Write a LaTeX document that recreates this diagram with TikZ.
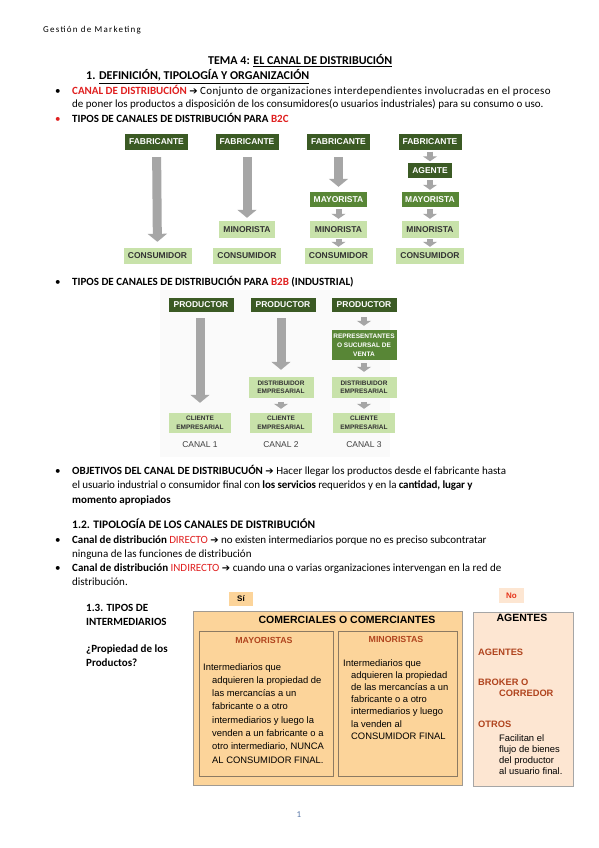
\documentclass[tikz,border=0pt]{standalone}
\usepackage{fontspec}
\setmainfont{Carlito}
\newfontfamily\arial{Liberation Sans}
\newfontfamily\symfont{DejaVu Sans}
\usetikzlibrary{arrows.meta,positioning}

\definecolor{verdeosc}{HTML}{3B5A24}
\definecolor{verdemed}{HTML}{588636}
\definecolor{verdecla}{HTML}{C8E2AA}
\definecolor{grisflecha}{HTML}{A6A6A6}
\definecolor{rojo}{HTML}{E02020}
\definecolor{naranja}{HTML}{FCD49A}
\definecolor{melocoton}{HTML}{FDE6D2}
\definecolor{marron}{HTML}{B0441E}
\definecolor{bordegris}{HTML}{A09A92}
\definecolor{bordeint}{HTML}{8C7A62}
\definecolor{numazul}{HTML}{5A78A8}

\newcommand{\flecha}{{\symfont\fontsize{10}{12}\selectfont ➔}}

\tikzset{
caja/.style={inner sep=0pt, font=\arial\bfseries\fontsize{8.5}{10}\selectfont, align=center},
oscura/.style={caja, fill=verdeosc, text=white},
media/.style={caja, fill=verdemed, text=white},
clara/.style={caja, fill=verdecla, text=black!80},
peque/.style={font=\arial\bfseries\fontsize{6.5}{8.5}\selectfont},
flechag/.style={draw=grisflecha, line width=9pt, -{Triangle[width=19pt,length=8pt]}},
flechap/.style={draw=grisflecha, line width=6pt, -{Triangle[width=14pt,length=5pt]}},
texto/.style={anchor=base west, inner sep=0pt, font=\fontsize{11}{13}\selectfont},
etiq/.style={texto, text=marron, font=\arial\bfseries\fontsize{9.3}{11}\selectfont},
tabla/.style={anchor=north west, inner sep=0pt, align=left, font=\arial\fontsize{9.4}{13.3}\selectfont},
}

\begin{document}
\begin{tikzpicture}[x=1pt,y=-1pt]

\fill[white] (0,0) rectangle (599,848);
\useasboundingbox (0,0) rectangle (599,848);

% Cabecera
\node[texto, font=\fontsize{9}{11}\selectfont\addfontfeature{LetterSpace=14}] (cab) at (43,33) {Gestión de Marketing};
\node[texto, font=\bfseries\fontsize{12}{14}\selectfont] (tema) at (208,65) {TEMA 4: \underline{EL CANAL DE DISTRIBUCIÓN}};
\node[texto, font=\bfseries\fontsize{12}{14}\selectfont] (sec1) at (86,80) {1. \underline{DEFINICIÓN, TIPOLOGÍA Y ORGANIZACIÓN}};

% Definicion
\node[texto] (p1) at (55,95) {•};
\node[texto] (l1) at (72,95) {{\color{rojo}\bfseries CANAL DE DISTRIBUCIÓN} \flecha\ {\addfontfeature{LetterSpace=3.2}Conjunto de organizaciones interdependientes involucradas en el proceso}};
\node[texto] (l2) at (72,108) {de poner los productos a disposición de los consumidores(o usuarios industriales) para su consumo o uso.};
\node[texto, text=rojo] (p2) at (55,123) {•};
\node[texto] (l3) at (72,123) {\bfseries TIPOS DE CANALES DE DISTRIBUCIÓN PARA {\color{rojo}B2C}};

% Canales B2C
\node[oscura, minimum width=63pt, minimum height=16pt] (fab1) at (156.5,142) {FABRICANTE};
\node[oscura, minimum width=63pt, minimum height=16pt] (fab2) at (247,142) {FABRICANTE};
\node[oscura, minimum width=63pt, minimum height=16pt] (fab3) at (338.5,142) {FABRICANTE};
\node[oscura, minimum width=63pt, minimum height=16pt] (fab4) at (430,142) {FABRICANTE};
\node[oscura, minimum width=44pt, minimum height=15pt] (age4) at (430,170.5) {AGENTE};
\node[media, minimum width=57pt, minimum height=15pt] (may3) at (338.5,199.5) {MAYORISTA};
\node[media, minimum width=57pt, minimum height=15pt] (may4) at (430,199.5) {MAYORISTA};
\node[clara, minimum width=56pt, minimum height=17pt] (min2) at (247,229.5) {MINORISTA};
\node[clara, minimum width=57pt, minimum height=17pt] (min3) at (338.5,229.5) {MINORISTA};
\node[clara, minimum width=57pt, minimum height=17pt] (min4) at (430,229.5) {MINORISTA};
\foreach \n/\x in {1/157.5,2/247,3/338.5,4/430}
{
\node[clara, minimum width=68pt, minimum height=16pt] (con\n) at (\x,256) {CONSUMIDOR};
}

\draw[flechag, shorten <=7pt, shorten >=6pt] (fab1) -- (con1);
\draw[flechag, shorten <=7pt, shorten >=3pt] (fab2) -- (min2);
\draw[flechag, shorten <=7pt, shorten >=5pt] (fab3) -- (may3);
\draw[flechap, shorten <=2pt, shorten >=2pt] (may3) -- (min3);
\draw[flechap, shorten <=1pt, shorten >=1pt] (min3) -- (con3);
\draw[flechap, shorten <=1.5pt, shorten >=1.5pt] (fab4) -- (age4);
\draw[flechap, shorten <=2pt, shorten >=2pt] (age4) -- (may4);
\draw[flechap, shorten <=2pt, shorten >=2pt] (may4) -- (min4);
\draw[flechap, shorten <=1pt, shorten >=1pt] (min4) -- (con4);

\node[texto] (p3) at (55,285) {•};
\node[texto] (l4) at (72,285) {\bfseries TIPOS DE CANALES DE DISTRIBUCIÓN PARA {\color{rojo}B2B} (INDUSTRIAL)};

% Canales B2B
\fill[black!2] (160,290) rectangle (390,457);
\node[oscura, minimum width=65pt, minimum height=14pt] (pro1) at (201,305) {PRODUCTOR};
\node[oscura, minimum width=65pt, minimum height=14pt] (pro2) at (283,305) {PRODUCTOR};
\node[oscura, minimum width=65pt, minimum height=14pt] (pro3) at (364,305) {PRODUCTOR};
\node[media, peque, minimum width=65pt, minimum height=30pt, font=\arial\bfseries\fontsize{6.5}{9}\selectfont] (rep3) at (364,345) {REPRESENTANTES\\O SUCURSAL DE\\VENTA};
\node[clara, peque, minimum width=65pt, minimum height=21pt] (dis2) at (281,387.5) {DISTRIBUIDOR\\EMPRESARIAL};
\node[clara, peque, minimum width=65pt, minimum height=21pt] (dis3) at (364,387.5) {DISTRIBUIDOR\\EMPRESARIAL};
\foreach \n/\x in {1/200,2/281,3/364}
{
\node[clara, peque, minimum width=62pt, minimum height=20pt] (cli\n) at (\x,423) {CLIENTE\\EMPRESARIAL};
\node[caja, text=black!75, font=\arial\fontsize{8.5}{10}\selectfont] (can\n) at (\x,445) {CANAL \n};
}

\draw[flechag, shorten <=6pt, shorten >=10pt] (pro1.south -| cli1) -- (cli1);
\draw[flechag, shorten <=6pt, shorten >=7pt] (pro2.south -| dis2) -- (dis2);
\draw[flechap, shorten <=4pt, shorten >=4pt] (dis2) -- (cli2);
\draw[flechap, shorten <=5pt, shorten >=4pt] (pro3) -- (rep3);
\draw[flechap, shorten <=3pt, shorten >=5pt] (rep3) -- (dis3);
\draw[flechap, shorten <=4pt, shorten >=4pt] (dis3) -- (cli3);

% Objetivos y tipologia
\node[texto] (p4) at (55,474) {•};
\node[texto] (l5) at (72,474) {\textbf{OBJETIVOS DEL CANAL DE DISTRIBUCUÓN \flecha} Hacer llegar los productos desde el fabricante hasta};
\node[texto, font=\fontsize{11}{13}\selectfont\addfontfeature{LetterSpace=-1.1}] (l6) at (72,488) {el usuario industrial o consumidor final con \textbf{los servicios} requeridos y en la \textbf{cantidad, lugar y}};
\node[texto] (l7) at (72,503) {\textbf{momento apropiados}};
\node[texto, font=\bfseries\fontsize{11.5}{13}\selectfont] (sec12) at (72,528) {1.2. TIPOLOGÍA DE LOS CANALES DE DISTRIBUCIÓN};
\node[texto] (p5) at (55,543) {•};
\node[texto, font=\fontsize{11}{13}\selectfont\addfontfeature{LetterSpace=-0.6}] (l8) at (72,543) {\textbf{Canal de distribución} {\color{rojo}DIRECTO} \flecha\ no existen intermediarios porque no es preciso subcontratar};
\node[texto] (l9) at (72,557) {ninguna de las funciones de distribución};
\node[texto] (p6) at (55,571) {•};
\node[texto] (l10) at (72,571) {\textbf{Canal de distribución} {\color{rojo}INDIRECTO} \flecha\ cuando una o varias organizaciones intervengan en la red de};
\node[texto] (l11) at (72,585) {distribución.};

% Tipos de intermediarios
\node[texto, font=\bfseries\fontsize{11}{13}\selectfont] (sec13a) at (86,611) {1.3. TIPOS DE};
\node[texto, font=\bfseries\fontsize{11}{13}\selectfont] (sec13b) at (86,625) {INTERMEDIARIOS};
\node[texto, font=\bfseries\fontsize{11}{13}\selectfont] (preg1) at (86,652) {¿Propiedad de los};
\node[texto, font=\bfseries\fontsize{11}{13}\selectfont] (preg2) at (86,666) {Productos?};

\node[caja, fill=naranja, minimum width=24pt, minimum height=14pt, font=\arial\bfseries\fontsize{8}{9}\selectfont] (si) at (241,599) {Sí};
\node[caja, fill=melocoton, minimum width=25pt, minimum height=15pt, text=rojo!80!orange, font=\arial\bfseries\fontsize{8}{9}\selectfont] (no) at (511.5,595.5) {No};

\node[draw=bordegris, line width=0.9pt, fill=naranja, minimum width=269pt, minimum height=174pt] (com) at (327.5,698) {};
\node[caja, font=\arial\bfseries\fontsize{10.5}{12}\selectfont] (tcom) at (347,620) {COMERCIALES O COMERCIANTES};
\node[draw=bordeint, line width=0.6pt, minimum width=134pt, minimum height=145pt] (mayb) at (266,703.5) {};
\node[draw=bordeint, line width=0.6pt, minimum width=119pt, minimum height=145pt] (minb) at (397.5,703.5) {};
\node[caja, text=marron, font=\arial\bfseries\fontsize{8.8}{10}\selectfont] (tmay) at (264,640) {MAYORISTAS};
\node[caja, text=marron, font=\arial\bfseries\fontsize{8.8}{10}\selectfont] (tmin) at (396,639) {MINORISTAS};
\node[tabla] (xmay) at (203,663) {Intermediarios que\\
\hspace*{9pt}adquieren la propiedad de\\
\hspace*{9pt}las mercancías a un\\
\hspace*{9pt}fabricante o a otro\\
\hspace*{9pt}intermediarios y luego la\\
\hspace*{9pt}venden a un fabricante o a\\
\hspace*{9pt}otro intermediario, NUNCA\\
\hspace*{9pt}AL CONSUMIDOR FINAL.};
\node[tabla, font=\arial\fontsize{9.4}{12.2}\selectfont] (xmin) at (343,659) {Intermediarios que\\
\hspace*{8pt}adquieren la propiedad\\
\hspace*{8pt}de las mercancías a un\\
\hspace*{8pt}fabricante o a otro\\
\hspace*{8pt}intermediarios y luego\\
\hspace*{8pt}la venden al\\
\hspace*{8pt}CONSUMIDOR FINAL};

\node[draw=black!35, line width=0.9pt, fill=melocoton, minimum width=100pt, minimum height=174pt] (agb) at (523,699) {};
\node[caja, font=\arial\bfseries\fontsize{10.5}{12}\selectfont] (tage) at (522,618) {AGENTES};
\node[etiq] (ag1) at (478,655) {AGENTES};
\node[etiq] (ag2) at (478,685) {BROKER O};
\node[etiq] (ag3) at (499,696) {CORREDOR};
\node[etiq] (ag4) at (478,727) {OTROS};
\node[tabla, font=\arial\fontsize{9.4}{11.3}\selectfont] (xage) at (499,734) {Facilitan el\\flujo de bienes\\del productor\\al usuario final.};

% Pagina
\node[caja, text=numazul, font=\fontsize{9}{11}\selectfont] (pag) at (299,815) {1};

\end{tikzpicture}
\end{document}
